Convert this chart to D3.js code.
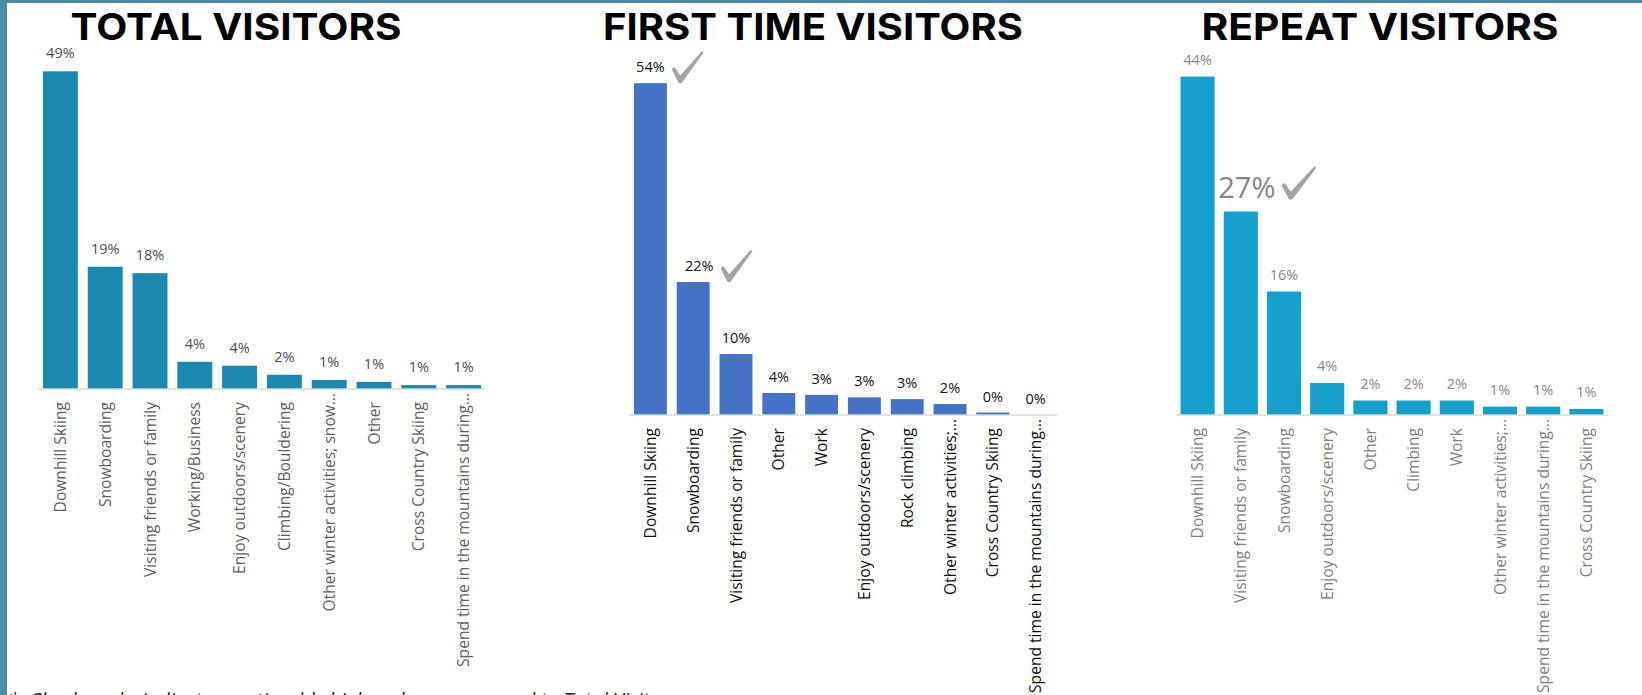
<!DOCTYPE html>
<html>
<head>
<meta charset="utf-8">
<script src="https://cdn.jsdelivr.net/npm/d3@7"></script>
<style>
  html, body { margin: 0; padding: 0; background: #ffffff; overflow: hidden; }
  svg { display: block; }
</style>
</head>
<body>
<svg id="chart" width="1642" height="695"></svg>
<script>
// ---- Data: share of visitors by primary activity ----
const totalCategories = [
  "Downhill Skiing", "Snowboarding", "Visiting friends or family", "Working/Business",
  "Enjoy outdoors/scenery", "Climbing/Bouldering", "Other winter activities; snow\u2026",
  "Other", "Cross Country Skiing", "Spend time in the mountains during\u2026"
];
const totalValues = [49.1, 18.9, 17.9, 4.2, 3.6, 2.2, 1.4, 1.1, 0.6, 0.6];

const firstCategories = [
  "Downhill Skiing", "Snowboarding", "Visiting friends or family", "Other", "Work",
  "Enjoy outdoors/scenery", "Rock climbing", "Other winter activities;\u2026",
  "Cross Country Skiing", "Spend time in the mountains during\u2026"
];
const firstValues = [54.4, 21.8, 10.0, 3.6, 3.3, 2.9, 2.6, 1.8, 0.4, 0.0];
const firstChecked = ["Downhill Skiing", "Snowboarding"];

const repeatCategories = [
  "Downhill Skiing", "Visiting friends or family", "Snowboarding", "Enjoy outdoors/scenery",
  "Other", "Climbing", "Work", "Other winter activities;\u2026",
  "Spend time in the mountains during\u2026", "Cross Country Skiing"
];
const repeatValues = [44.4, 26.7, 16.2, 4.2, 1.9, 1.9, 1.9, 1.1, 1.1, 0.8];
const repeatChecked = ["Visiting friends or family"];
const repeatEmphasis = ["Visiting friends or family"];

const chartTitles = ["TOTAL VISITORS", "FIRST TIME VISITORS", "REPEAT VISITORS"];
const footnoteText = "*: Checkmarks indicate a noticeably higher share compared to Total Visitors";

// ---- Layout and styles for each panel ----
const panels = [
  {
    title: chartTitles[0], categories: totalCategories, values: totalValues,
    checked: [], emphasis: [],
    x0: 38, x1: 486, baseY: 389, yMax: 50, topY: 65.5, padInner: 0.22,
    titleX: 236, titleW: 331,
    barColor: "#1b88ad", valueColor: "#4d4d4d", catColor: "#5f5f5f", valueGap: 13
  },
  {
    title: chartTitles[1], categories: firstCategories, values: firstValues,
    checked: firstChecked, emphasis: [],
    x0: 629, x1: 1057, baseY: 415, yMax: 55, topY: 79.5, padInner: 0.23,
    titleX: 813, titleW: 420,
    barColor: "#4472c4", valueColor: "#111111", catColor: "#111111", valueGap: 11
  },
  {
    title: chartTitles[2], categories: repeatCategories, values: repeatValues,
    checked: repeatChecked, emphasis: repeatEmphasis,
    x0: 1176, x1: 1608, baseY: 415, yMax: 45, topY: 72, padInner: 0.21,
    titleX: 1380, titleW: 357,
    barColor: "#15a0cc", valueColor: "#858585", catColor: "#7f7f7f", valueGap: 12
  }
];

const svg = d3.select("#chart");
const labelFont = "'Open Sans', 'Noto Sans', sans-serif";
const pct = v => d3.format(".0f")(v) + "%";

// Frame strips on the left and top edges
svg.append("rect").attr("x", 0).attr("y", 0).attr("width", 1642).attr("height", 3).attr("fill", "#4a8aa4");
svg.append("rect").attr("x", 0).attr("y", 0).attr("width", 7).attr("height", 695).attr("fill", "#4a8aa4");

// Check-mark shape in a unit box
const checkPath = "M0,0.56 L0.09,0.5 L0.27,0.76 L0.94,0 L1,0.04 L0.31,1 L0.22,1 Z";

panels.forEach(p => {
  const g = svg.append("g");

  const x = d3.scaleBand()
    .domain(p.categories)
    .range([p.x0, p.x1])
    .paddingInner(p.padInner)
    .paddingOuter(p.padInner / 2);

  const y = d3.scaleLinear()
    .domain([0, p.yMax])
    .range([p.baseY, p.topY]);

  const rows = p.categories.map((c, i) => ({ cat: c, value: p.values[i], index: i }));

  // Title
  g.append("text")
    .attr("x", p.titleX).attr("y", 40)
    .attr("text-anchor", "middle")
    .attr("textLength", p.titleW)
    .attr("lengthAdjust", "spacingAndGlyphs")
    .style("font-family", "Inter, 'DejaVu Sans', sans-serif")
    .style("font-weight", 700)
    .style("font-size", "37px")
    .attr("fill", "#000")
    .text(p.title);

  // Bars
  g.selectAll("rect.bar").data(rows).join("rect")
    .attr("class", "bar")
    .attr("x", d => x(d.cat))
    .attr("y", d => y(d.value))
    .attr("width", x.bandwidth())
    .attr("height", d => p.baseY - y(d.value))
    .attr("fill", p.barColor);

  // Category axis
  const axis = d3.axisBottom(x).tickSize(0).tickPadding(0);
  const ax = g.append("g").attr("transform", `translate(0,${p.baseY})`).call(axis);
  ax.select(".domain").attr("stroke", "#d9d9d9").attr("stroke-width", 1.3)
    .attr("d", `M${p.x0},0H${p.x1}`);
  ax.selectAll(".tick text")
    .attr("x", 0).attr("y", 0)
    .attr("transform", d => `translate(0,${d.endsWith("\u2026") ? 4 : 13}) rotate(-90)`)
    .attr("dy", "0.36em")
    .attr("text-anchor", "end")
    .attr("fill", p.catColor)
    .style("font-family", labelFont)
    .style("font-size", "15.6px");

  // Value labels; checked labels after the first bar sit slightly right to make room
  const labels = g.selectAll("text.val").data(rows).join("text")
    .attr("class", "val")
    .attr("x", d => x(d.cat) + x.bandwidth() / 2 + (p.checked.includes(d.cat) && d.index > 0 ? 6 : 0))
    .attr("y", d => y(d.value) - (p.emphasis.includes(d.cat) ? 13 : p.valueGap))
    .attr("text-anchor", "middle")
    .attr("fill", p.valueColor)
    .style("font-family", labelFont)
    .style("font-size", d => p.emphasis.includes(d.cat) ? "29px" : "14.5px")
    .text(d => pct(d.value));

  // Check marks next to highlighted values
  labels.filter(d => p.checked.includes(d.cat)).each(function (d) {
    const bb = this.getBBox();
    const big = p.emphasis.includes(d.cat);
    const w = big ? 35 : 32, h = big ? 33 : 32;
    const left = bb.x + bb.width + (big ? 6 : 7);
    const bottom = y(d.value) - (big ? 12 : 0);
    g.append("path")
      .attr("d", checkPath)
      .attr("transform", `translate(${left},${bottom - h}) scale(${w},${h})`)
      .attr("fill", "#a3a3a3");
  });
});

// Footnote along the bottom edge
svg.append("text")
  .attr("x", 8).attr("y", 707)
  .attr("fill", "#262626")
  .style("font-family", "'Open Sans', sans-serif")
  .style("font-style", "italic")
  .style("font-size", "20px")
  .text(footnoteText);
</script>
</body>
</html>
